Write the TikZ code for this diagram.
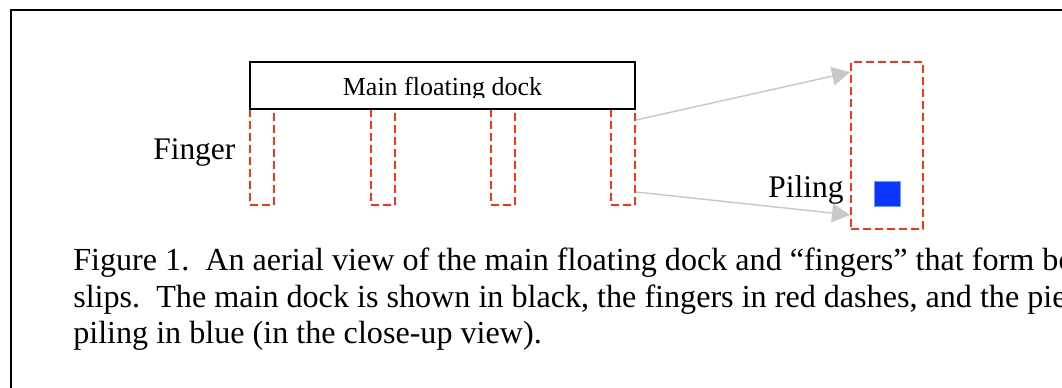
\documentclass[tikz,border=0pt]{standalone}
\usepackage{fontspec}
\setmainfont{Liberation Serif}
\usetikzlibrary{arrows.meta}
\definecolor{dockred}{RGB}{255,51,17}
\definecolor{arrgray}{RGB}{200,200,200}
\definecolor{pileblue}{RGB}{10,55,255}
\definecolor{pileedge}{RGB}{120,150,255}
\tikzset{
  fingerbox/.style={draw=dockred, line width=1.5pt, dash pattern=on 6pt off 3pt,
    minimum width=24*0.75pt, minimum height=96*0.75pt, inner sep=0pt},
  dockbox/.style={draw=black, line width=1.5pt, fill=white,
    minimum width=385*0.75pt, minimum height=47*0.75pt, inner sep=0pt},
  closebox/.style={draw=dockred, line width=1.5pt, dash pattern=on 6pt off 3pt,
    minimum width=72*0.75pt, minimum height=167*0.75pt, inner sep=0pt},
  pilebox/.style={fill=pileblue, draw=pileedge, line width=0.4pt,
    minimum width=26*0.75pt, minimum height=25*0.75pt, inner sep=0pt},
  grayarrow/.style={draw=arrgray, line width=1.1pt,
    -{Triangle[length=13.5pt,width=14pt]}, shorten >=0pt},
  bigtext/.style={font=\fontsize{23.6}{27}\selectfont, inner sep=0pt, anchor=base west},
  captext/.style={font=\fontsize{24.1}{27.4}\selectfont, inner sep=0pt, anchor=base west},
  docktext/.style={font=\fontsize{19.5}{23}\selectfont, inner sep=0pt, anchor=base},
}
\begin{document}
\begin{tikzpicture}[x=0.75pt, y=-0.75pt]
\useasboundingbox (0,0) rectangle (1062,387);
\clip (0,0) rectangle (1062,387);
% outer frame
\draw[black, line width=1.5pt] (11,10) rectangle (1090,420);
% fingers
\node[fingerbox] (f1) at (262,157) {};
\node[fingerbox] (f2) at (383,157) {};
\node[fingerbox] (f3) at (503,157) {};
\node[fingerbox] (f4) at (623,157) {};
% main dock
\node[dockbox] (dock) at (442.5,85.5) {};
\begin{scope}
  \clip (250,62) rectangle (635,97);
  \node[docktext] (docklabel) at (442.5,95) {Main floating dock};
\end{scope}
% close-up
\node[closebox] (close) at (887,145.5) {};
\node[pilebox] (pile) at (887,193.5) {};
% arrows
\draw[grayarrow] ([yshift=27.75pt]f4.east) -- ([yshift=55pt]close.west);
\draw[grayarrow] ([yshift=-26.25pt]f4.east) -- ([yshift=-52.1pt]close.west);
% labels
\node[bigtext] (fingerlabel) at (153,159) {Finger};
\node[bigtext] (pilinglabel) at (768,197) {Piling};
% caption
\node[captext] (cap1) at (73,270.7) {Figure 1.\ \ An aerial view of the main floating dock and “fingers” that form bo};
\node[captext] (cap2) at (73,307) {slips.\ \ The main dock is shown in black, the fingers in red dashes, and the pie};
\node[captext] (cap3) at (73,343) {piling in blue (in the close-up view).};
\end{tikzpicture}
\end{document}
